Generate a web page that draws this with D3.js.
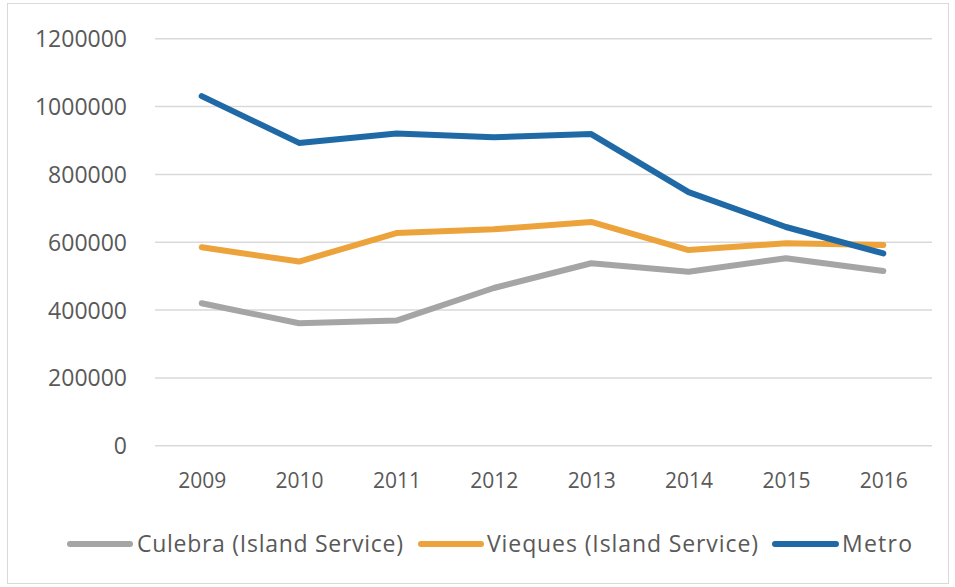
<!DOCTYPE html>
<html>
<head>
<meta charset="utf-8">
<script src="https://cdn.jsdelivr.net/npm/d3@7"></script>
<style>
  html, body { margin: 0; padding: 0; background: #fff; }
  svg { display: block; }
  text { font-family: "Open Sans", "Liberation Sans", sans-serif; fill: #595959; }
</style>
</head>
<body>
<svg id="chart" width="955" height="587"></svg>
<script>
// Ridership by service, 2009–2016
const years = ["2009", "2010", "2011", "2012", "2013", "2014", "2015", "2016"];
const culebra = [420000, 361000, 369000, 465000, 538000, 513000, 553000, 515000];
const vieques = [585000, 543000, 627000, 638000, 660000, 577000, 597000, 592000];
const metro   = [1031000, 893000, 921000, 910000, 919000, 748000, 645000, 567000];
const yTicks  = [0, 200000, 400000, 600000, 800000, 1000000, 1200000];

const seriesNames  = ["Culebra (Island Service)", "Vieques (Island Service)", "Metro"];
const seriesValues = [culebra, vieques, metro];
const seriesColors = ["#a5a5a5", "#eda33b", "#1f6aa6"];

const svg = d3.select("#chart");
const W = 955, H = 587;

// outer frame
svg.append("rect")
  .attr("x", 7.5).attr("y", 3.5)
  .attr("width", W - 14).attr("height", H - 7)
  .attr("fill", "#fff").attr("stroke", "#d9d9d9").attr("stroke-width", 1);

const x = d3.scalePoint().domain(years).range([153, 932]).padding(0.5);
const y = d3.scaleLinear().domain([0, 1200000]).range([445.7, 38.8]);

// horizontal gridlines
svg.append("g")
  .selectAll("line")
  .data(yTicks)
  .join("line")
  .attr("x1", 155).attr("x2", 932)
  .attr("y1", d => y(d)).attr("y2", d => y(d))
  .attr("stroke", "#d9d9d9").attr("stroke-width", 1.5);

// y axis labels
const yAxis = d3.axisLeft(y).tickValues(yTicks).tickSize(0).tickPadding(0)
  .tickFormat(d3.format("d"));
const gy = svg.append("g").attr("transform", "translate(127,0)").call(yAxis);
gy.select(".domain").remove();
gy.selectAll("text")
  .attr("fill", "#595959")
  .style("font-family", "'Open Sans', sans-serif")
  .style("font-size", "23px")
  .attr("dy", "0.35em");

// x axis labels
const xAxis = d3.axisBottom(x).tickSize(0).tickPadding(0);
const gx = svg.append("g").attr("transform", "translate(0,470)").call(xAxis);
gx.select(".domain").remove();
gx.selectAll("text")
  .attr("fill", "#595959")
  .style("font-family", "'Open Sans', sans-serif")
  .style("font-size", "21px")
  .attr("dy", "0.35em")
  .attr("y", 11);

// series lines
const line = d3.line()
  .x((d, i) => x(years[i]))
  .y(d => y(d));

svg.append("g")
  .selectAll("path")
  .data(seriesValues)
  .join("path")
  .attr("d", d => line(d))
  .attr("fill", "none")
  .attr("stroke", (d, i) => seriesColors[i])
  .attr("stroke-width", 6)
  .attr("stroke-linejoin", "round")
  .attr("stroke-linecap", "round");

// legend
const legendItems = [
  { x1: 70, x2: 130, tx: 137, tw: 266 },
  { x1: 421, x2: 481, tx: 487, tw: 271 },
  { x1: 775, x2: 836, tx: 842, tw: 70 }
];
const lg = svg.append("g").attr("transform", "translate(0,544)");
legendItems.forEach((it, i) => {
  lg.append("line")
    .attr("x1", it.x1).attr("x2", it.x2)
    .attr("y1", 0).attr("y2", 0)
    .attr("stroke", seriesColors[i]).attr("stroke-width", 6)
    .attr("stroke-linecap", "round");
  lg.append("text")
    .attr("x", it.tx).attr("y", 0).attr("dy", "0.35em")
    .attr("textLength", it.tw)
    .attr("lengthAdjust", "spacing")
    .style("font-size", "23px")
    .text(seriesNames[i]);
});
</script>
</body>
</html>
